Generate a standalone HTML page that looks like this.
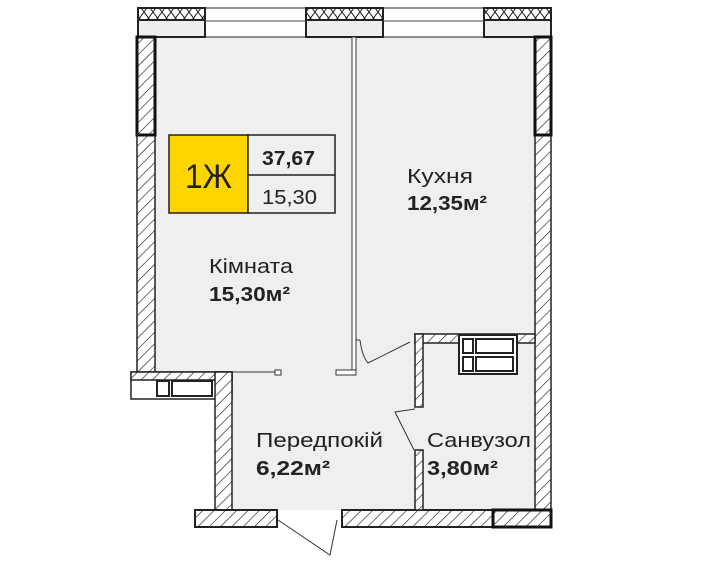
<!DOCTYPE html><html><head><style>body{margin:0;background:#fff}svg{display:block}text{font-family:"Liberation Sans",sans-serif}</style></head><body>
<svg width="728" height="570" viewBox="0 0 728 570" xmlns="http://www.w3.org/2000/svg">
<defs><pattern id="h" width="8" height="8" patternUnits="userSpaceOnUse" patternTransform="rotate(45)"><rect width="8" height="8" fill="#fff"/><line x1="0" y1="0" x2="0" y2="8" stroke="#222" stroke-width="1.3"/></pattern>
<pattern id="x" width="9" height="12" patternUnits="userSpaceOnUse"><rect width="9" height="12" fill="#fff"/><path d="M0,0 L9,12 M9,0 L0,12" stroke="#222" stroke-width="1"/></pattern></defs>
<polygon points="155,37 535,37 535,510 342,510 277,510 232,510 232,380 155,380" fill="#efefef"/>
<rect x="138" y="8" width="413" height="29" fill="#fff" stroke="#222" stroke-width="1"/>
<g stroke="#222" stroke-width="2">
<rect x="138" y="8" width="67" height="12" fill="url(#x)"/><rect x="138" y="20" width="67" height="17" fill="#eee"/>
<rect x="306" y="8" width="77" height="12" fill="url(#x)"/><rect x="306" y="20" width="77" height="17" fill="#eee"/>
<rect x="484" y="8" width="67" height="12" fill="url(#x)"/><rect x="484" y="20" width="67" height="17" fill="#eee"/>
</g>
<line x1="205" y1="21" x2="306" y2="21" stroke="#444"/><line x1="383" y1="21" x2="484" y2="21" stroke="#444"/>
<rect x="137" y="37" width="18" height="343" fill="url(#h)" stroke="#222" stroke-width="1.5"/>
<rect x="137" y="37" width="18" height="98" fill="url(#h)" stroke="#111" stroke-width="3"/>
<rect x="535" y="37" width="16" height="473" fill="url(#h)" stroke="#222" stroke-width="1.5"/>
<rect x="535" y="37" width="16" height="98" fill="url(#h)" stroke="#111" stroke-width="3"/>
<rect x="131" y="372" width="101" height="27" fill="#fff" stroke="#222" stroke-width="1.5"/>
<rect x="131" y="372" width="101" height="8" fill="url(#h)" stroke="#222" stroke-width="1.5"/>
<rect x="157" y="381" width="12" height="15" fill="#fff" stroke="#222" stroke-width="2"/>
<rect x="172" y="381" width="40" height="15" fill="#fff" stroke="#222" stroke-width="2"/>
<rect x="215" y="372" width="17" height="140" fill="url(#h)" stroke="#222" stroke-width="1.5"/>
<rect x="195" y="510" width="82" height="17" fill="url(#h)" stroke="#222" stroke-width="2"/>
<rect x="342" y="510" width="151" height="17" fill="url(#h)" stroke="#222" stroke-width="2"/>
<rect x="493" y="510" width="58" height="17" fill="url(#h)" stroke="#111" stroke-width="3"/>
<rect x="352" y="37" width="4" height="336" fill="#fff" stroke="#333" stroke-width="1"/>
<polyline points="356,340 360,340" stroke="#333" fill="none"/>
<rect x="336" y="370" width="20" height="5" fill="#fff" stroke="#333"/>
<rect x="275" y="370" width="6" height="5" fill="#fff" stroke="#333"/>
<line x1="232" y1="372" x2="275" y2="372" stroke="#333"/>
<path d="M360,340 Q362,356 368,363 L410,342" fill="none" stroke="#333"/>
<rect x="415" y="334" width="120" height="9" fill="url(#h)" stroke="#222" stroke-width="1.5"/>
<rect x="415" y="334" width="8" height="73" fill="url(#h)" stroke="#222" stroke-width="1.5"/>
<rect x="415" y="450" width="8" height="60" fill="url(#h)" stroke="#222" stroke-width="1.5"/>
<rect x="459" y="335" width="58" height="39" fill="#fff" stroke="#222" stroke-width="2"/>
<rect x="463" y="339" width="10" height="14" fill="#fff" stroke="#222" stroke-width="2"/><rect x="476" y="339" width="37" height="14" fill="#fff" stroke="#222" stroke-width="2"/>
<rect x="463" y="357" width="10" height="14" fill="#fff" stroke="#222" stroke-width="2"/><rect x="476" y="357" width="37" height="14" fill="#fff" stroke="#222" stroke-width="2"/>
<path d="M415,409 L395,412 L414,450" fill="none" stroke="#333"/>
<path d="M278,520 L330,555 L337,520" fill="none" stroke="#333"/>
<rect x="169" y="135" width="79" height="78" fill="#ffd500" stroke="#222" stroke-width="1.5"/>
<rect x="248" y="135" width="87" height="78" fill="#efefef" stroke="#222" stroke-width="1.5"/>
<line x1="248" y1="175" x2="335" y2="175" stroke="#222" stroke-width="1.5"/>
<text x="185" y="188" font-size="34" textLength="47" lengthAdjust="spacingAndGlyphs" fill="#222">1Ж</text>
<text x="262" y="165" font-size="20" font-weight="bold" textLength="53" lengthAdjust="spacingAndGlyphs" fill="#222">37,67</text>
<text x="262" y="204" font-size="20" textLength="55" lengthAdjust="spacingAndGlyphs" fill="#222">15,30</text>
<g fill="#222" font-size="20">
<text x="407" y="183" textLength="66" lengthAdjust="spacingAndGlyphs">Кухня</text><text x="407" y="210" font-weight="bold" textLength="80" lengthAdjust="spacingAndGlyphs">12,35м²</text>
<text x="209" y="273" textLength="84" lengthAdjust="spacingAndGlyphs">Кімната</text><text x="209" y="301" font-weight="bold" textLength="81" lengthAdjust="spacingAndGlyphs">15,30м²</text>
<text x="256" y="447" textLength="127" lengthAdjust="spacingAndGlyphs">Передпокій</text><text x="256" y="475" font-weight="bold" textLength="74" lengthAdjust="spacingAndGlyphs">6,22м²</text>
<text x="427" y="447" textLength="104" lengthAdjust="spacingAndGlyphs">Санвузол</text><text x="427" y="475" font-weight="bold" textLength="71" lengthAdjust="spacingAndGlyphs">3,80м²</text>
</g>
</svg></body></html>
